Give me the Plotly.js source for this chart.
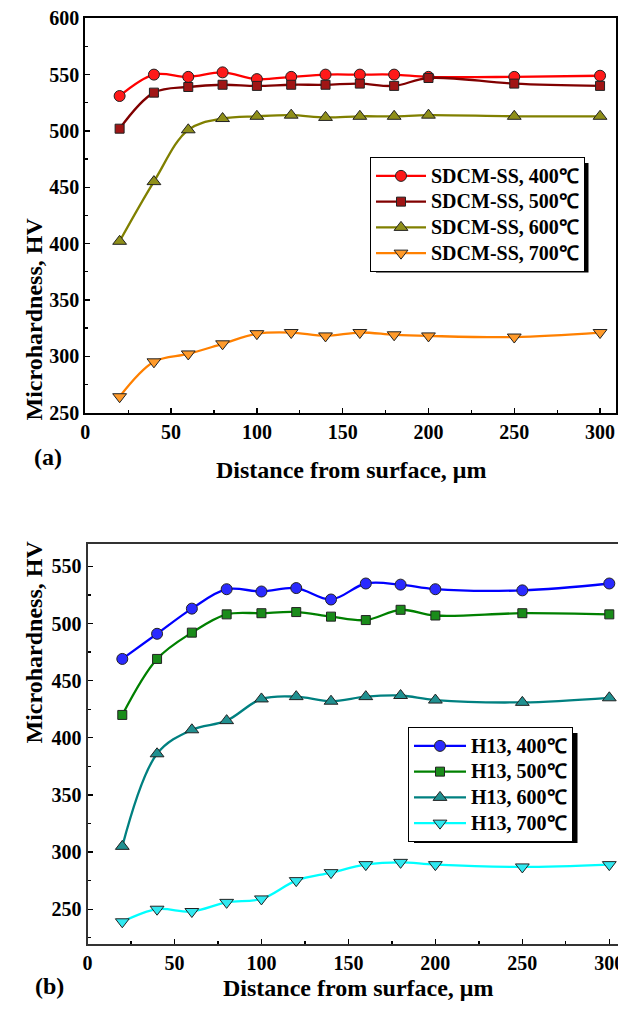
<!DOCTYPE html>
<html><head><meta charset="utf-8">
<script src="https://cdn.plot.ly/plotly-3.0.1.min.js"></script>
<style>html,body{margin:0;padding:0;background:#fff;} #chart{width:618px;height:1017px;}</style>
</head><body><div id="chart"></div>
<script>
// ---- data ----
const depth = [20, 40, 60, 80, 100, 120, 140, 160, 180, 200, 250, 300];
const sdcm400 = [531, 550, 548, 552, 546, 548, 550, 550, 550, 548, 548, 549];
const sdcm500 = [502, 534, 539, 541, 540, 541, 541, 542, 540, 547, 542, 540];
const sdcm600 = [402, 455, 501, 511, 513, 514, 512, 513, 513, 514, 513, 513];
const sdcm700 = [264, 295, 302, 311, 320, 321, 318, 321, 319, 318, 317, 321];
const h13_400 = [469, 491, 513, 530, 528, 531, 521, 535, 534, 530, 529, 535];
const h13_500 = [420, 469, 492, 508, 509, 510, 506, 503, 512, 507, 509, 508];
const h13_600 = [305, 386, 407, 415, 434, 436, 432, 436, 437, 433, 431, 435];
const h13_700 = [239, 250, 248, 256, 259, 275, 282, 289, 291, 289, 287, 289];
const namesA = ['SDCM-SS, 400℃', 'SDCM-SS, 500℃', 'SDCM-SS, 600℃', 'SDCM-SS, 700℃'];
const namesB = ['H13, 400℃', 'H13, 500℃', 'H13, 600℃', 'H13, 700℃'];
const xTitle = 'Distance from surface, μm';
const yTitle = 'Microhardness, HV';

// ---- helpers ----
const W = 618, H = 1017;
const px = v => v / W;
const py = v => 1 - v / H;
const FONT = 'Liberation Serif, Times New Roman, serif';
const big = s => '<span style="font-size:20px">' + s + '</span>';

function tr(x, y, name, lineCol, mCol, sym, size, xa, ya, leg) {
  return {
    x: x, y: y, name: big(name), type: 'scatter', mode: 'lines+markers',
    xaxis: xa, yaxis: ya, legend: leg,
    line: {color: lineCol, width: 2.3, shape: 'spline', smoothing: 1},
    marker: {symbol: sym, size: size, color: mCol, line: {color: '#222', width: 1}}
  };
}

const data = [
  tr(depth, sdcm400, namesA[0], '#ff0000', '#ff1a1a', 'circle', 11, 'x', 'y', 'legend'),
  tr(depth, sdcm500, namesA[1], '#800000', '#a01515', 'square', 9, 'x', 'y', 'legend'),
  tr(depth, sdcm600, namesA[2], '#808000', '#8f8f1a', 'triangle-up', 12, 'x', 'y', 'legend'),
  tr(depth, sdcm700, namesA[3], '#ff8000', '#ff9a2a', 'triangle-down', 12, 'x', 'y', 'legend'),
  tr(depth, h13_400, namesB[0], '#0000ff', '#2a2aff', 'circle', 11, 'x2', 'y2', 'legend2'),
  tr(depth, h13_500, namesB[1], '#008000', '#1a8c1a', 'square', 9, 'x2', 'y2', 'legend2'),
  tr(depth, h13_600, namesB[2], '#008080', '#209090', 'triangle-up', 12, 'x2', 'y2', 'legend2'),
  tr(depth, h13_700, namesB[3], '#00ffff', '#30e8f0', 'triangle-down', 12, 'x2', 'y2', 'legend2')
];

function axis(extra, lineCol) {
  return Object.assign({
    showgrid: false, zeroline: false, showline: true, mirror: true,
    linecolor: lineCol, linewidth: 2,
    ticks: 'inside', ticklen: 5, tickwidth: 1.3, tickcolor: '#000',
    minor: {ticks: 'inside', ticklen: 3, tickwidth: 1.3, tickcolor: '#000', dtick: 25},
    tickfont: {family: FONT, size: 20, color: '#000', weight: 'bold'},
    ticklabeloverflow: 'allow',
    fixedrange: true
  }, extra);
}

const legFont = {family: FONT, size: 17.5, color: '#000', weight: 'bold'};

const layout = {
  width: W, height: H,
  margin: {l: 0, r: 0, t: 0, b: 0},
  paper_bgcolor: '#fff', plot_bgcolor: '#fff',
  showlegend: true,
  xaxis: axis({domain: [px(85.3), px(615.5)], range: [0, 309], dtick: 50, tick0: 0, anchor: 'y'}, '#000'),
  yaxis: axis({domain: [py(412.5), py(18.3)], range: [250, 600], dtick: 50, tick0: 0, anchor: 'x'}, '#000'),
  xaxis2: axis({domain: [px(87.5), 1], range: [0, 305], dtick: 50, tick0: 0, anchor: 'y2'}, '#333'),
  yaxis2: axis({domain: [py(943.5), py(543.5)], range: [220, 570], dtick: 50, tick0: 0, anchor: 'x2'}, '#333'),
  legend: {x: px(370), y: py(157), xanchor: 'left', yanchor: 'top', bgcolor: '#fff',
           bordercolor: '#000', borderwidth: 1, font: legFont, tracegroupgap: 0, itemwidth: 50},
  legend2: {x: px(408), y: py(727), xanchor: 'left', yanchor: 'top', bgcolor: '#fff',
           bordercolor: '#000', borderwidth: 1, font: legFont, tracegroupgap: 0, itemwidth: 52},
  shapes: [
    {type: 'rect', xref: 'paper', yref: 'paper', x0: px(376), x1: px(588.5), y0: py(163), y1: py(272.5),
     fillcolor: '#000', line: {width: 0}, layer: 'above'},
    {type: 'rect', xref: 'paper', yref: 'paper', x0: px(414), x1: px(577.5), y0: py(733), y1: py(843),
     fillcolor: '#000', line: {width: 0}, layer: 'above'}
  ],
  annotations: [
    {text: yTitle, xref: 'paper', yref: 'paper', x: px(18), y: py(216), textangle: -90, showarrow: false,
     font: {family: FONT, size: 24, color: '#000', weight: 'bold'}},
    {text: xTitle, xref: 'paper', yref: 'paper', x: px(351), y: py(470), showarrow: false,
     font: {family: FONT, size: 24, color: '#000', weight: 'bold'}},
    {text: '(a)', xref: 'paper', yref: 'paper', x: px(32), y: py(457), showarrow: false,
     font: {family: FONT, size: 24, color: '#000', weight: 'bold'}},
    {text: yTitle, xref: 'paper', yref: 'paper', x: px(18), y: py(746), textangle: -90, showarrow: false,
     font: {family: FONT, size: 24, color: '#000', weight: 'bold'}},
    {text: xTitle, xref: 'paper', yref: 'paper', x: px(358), y: py(1003), showarrow: false,
     font: {family: FONT, size: 24, color: '#000', weight: 'bold'}},
    {text: '(b)', xref: 'paper', yref: 'paper', x: px(33), y: py(1001), showarrow: false,
     font: {family: FONT, size: 24, color: '#000', weight: 'bold'}}
  ]
};

Plotly.newPlot('chart', data, layout, {displayModeBar: false, staticPlot: true});
</script>
</body></html>
